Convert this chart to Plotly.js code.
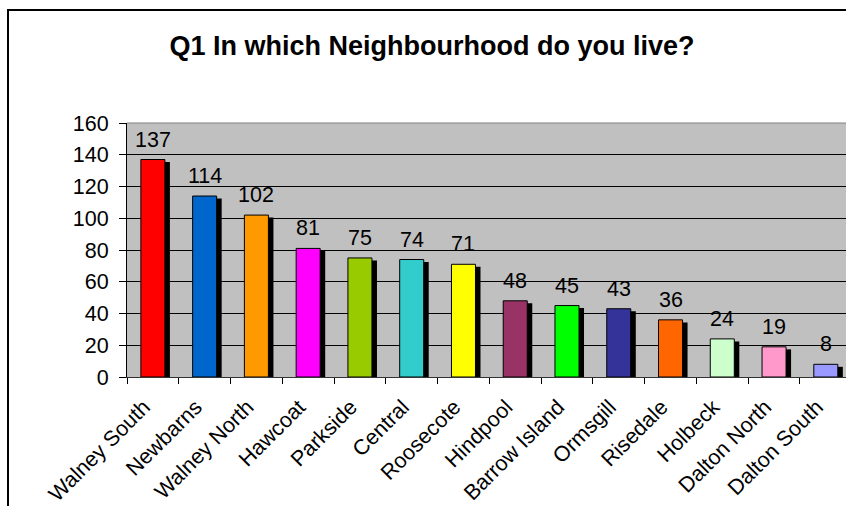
<!DOCTYPE html>
<html>
<head>
<meta charset="utf-8">
<script src="https://cdn.plot.ly/plotly-3.0.1.min.js"></script>
<style>html,body{margin:0;padding:0;background:#fff;}#chart{width:846px;height:506px;}</style>
</head>
<body>
<div id="chart"></div>
<script>
const categories = ["Walney South","Newbarns","Walney North","Hawcoat","Parkside","Central","Roosecote","Hindpool","Barrow Island","Ormsgill","Risedale","Holbeck","Dalton North","Dalton South"];
const counts = [137,114,102,81,75,74,71,48,45,43,36,24,19,8];
const barColors = ["#FF0000","#0066CC","#FF9900","#FF00FF","#99CC00","#33CCCC","#FFFF00","#993366","#00FF00","#333399","#FF6600","#CCFFCC","#FF99CC","#9999FF"];
const yTicks = [0,20,40,60,80,100,120,140,160];

const FONT = "Arial, 'Liberation Sans', sans-serif";
const FS = 21.5;
const BW = 0.464;

const shadow = {
  type: "bar", x: categories, y: counts, base: -1.6,
  width: BW, offset: -BW/2 + 0.097,
  marker: {color: "#000000", line: {width: 0}},
  hoverinfo: "skip", showlegend: false
};
const bars = {
  type: "bar", x: categories, y: counts,
  width: BW, offset: -BW/2,
  marker: {color: barColors, line: {color: "#000000", width: 1}},
  showlegend: false
};

const annotations = categories.map((c, i) => ({
  x: c, y: counts[i], xref: "x", yref: "y",
  text: String(counts[i]), showarrow: false,
  yanchor: "bottom", yshift: 6,
  font: {family: FONT, size: FS, color: "#000"}
}));

const layout = {
  width: 846, height: 506,
  margin: {l: 127, r: 0, t: 123, b: 129, pad: 0},
  paper_bgcolor: "#FFFFFF", plot_bgcolor: "#C0C0C0",
  barmode: "overlay",
  title: {
    text: "<b>Q1 In which Neighbourhood do you live?</b>",
    xref: "container", yref: "container",
    x: 432/846, xanchor: "center", y: 1 - 46/506, yanchor: "middle",
    font: {family: FONT, size: 27, color: "#000"}
  },
  xaxis: {
    type: "category", range: [-0.5, 13.39],
    tickangle: -45, tickson: "boundaries", ticks: "outside", ticklen: 6, tickcolor: "#000",
    ticklabelstandoff: 8, ticklabelshift: -9,
    showline: true, linecolor: "#333", linewidth: 1,
    showgrid: false, zeroline: false, fixedrange: true,
    tickfont: {family: FONT, size: FS, color: "#000"}
  },
  yaxis: {
    range: [0, 160], tickvals: yTicks, ticktext: yTicks.map(String),
    ticks: "outside", ticklen: 7, tickcolor: "#000", ticklabelstandoff: 6,
    showline: true, linecolor: "#000", linewidth: 1,
    showgrid: true, gridcolor: "#000", gridwidth: 1, zeroline: false,
    tickfont: {family: FONT, size: FS, color: "#000"}
  },
  annotations: annotations,
  shapes: [
    {type: "line", xref: "paper", yref: "paper", x0: 0, x1: 1.05, y0: 1, y1: 1,
     line: {color: "#808080", width: 1}, layer: "above"},
    {type: "rect", xref: "paper", yref: "paper",
     x0: (8 - 127) / 719, x1: 1.2, y0: -1, y1: (377 - 10) / 254,
     line: {color: "#000", width: 2}, fillcolor: "rgba(0,0,0,0)", layer: "above"}
  ]
};

Plotly.newPlot("chart", [shadow, bars], layout, {displayModeBar: false, staticPlot: true});
</script>
</body>
</html>
